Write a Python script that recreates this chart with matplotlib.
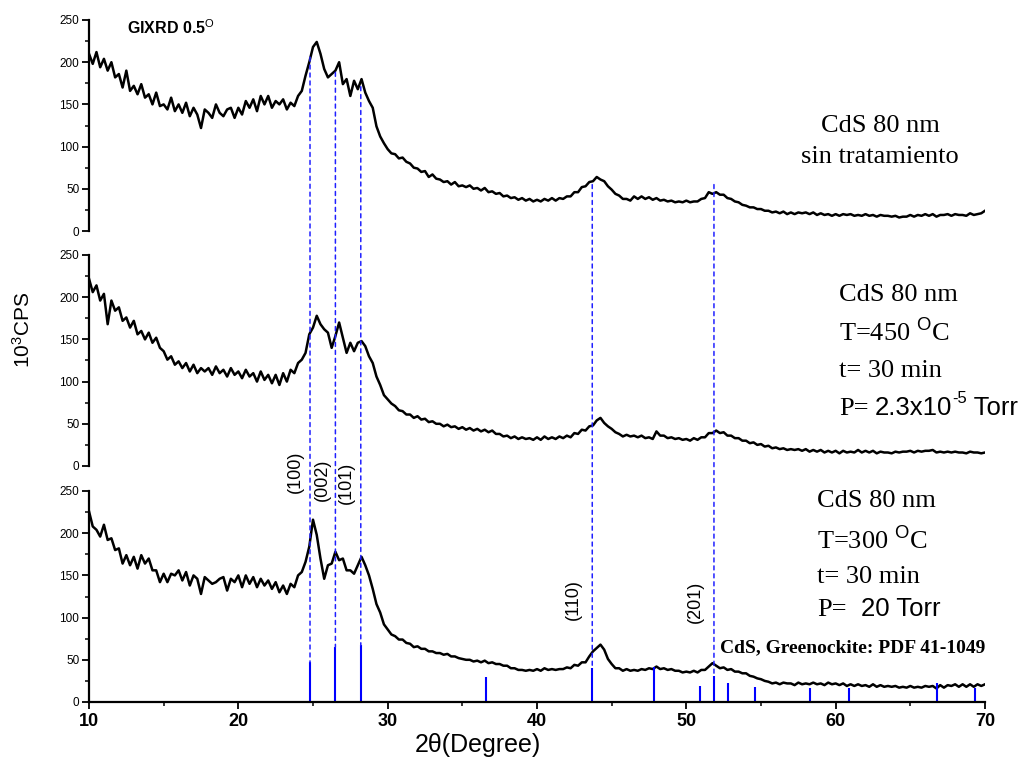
import numpy as np
import matplotlib
matplotlib.use("Agg")
import matplotlib.pyplot as plt
from matplotlib.patches import ConnectionPatch

plt.rcParams['font.family'] = ['Liberation Sans', 'DejaVu Sans']
plt.rcParams['mathtext.fontset'] = 'custom'
plt.rcParams['mathtext.rm'] = 'Liberation Sans'
plt.rcParams['mathtext.it'] = 'Liberation Sans:italic'
plt.rcParams['mathtext.bf'] = 'Liberation Sans:bold'

# ---------------- data ----------------
two_theta_start = 10.0
two_theta_step = 0.25

cps_as_deposited = [
    210, 198, 212, 194, 204, 190, 200, 182,
    186, 170, 190, 166, 172, 162, 174, 158,
    162, 150, 164, 148, 150, 144, 158, 142,
    150, 140, 152, 136, 146, 138, 122, 144,
    140, 134, 150, 140, 136, 144, 146, 134,
    146, 138, 154, 146, 156, 142, 160, 150,
    160, 146, 154, 150, 156, 144, 152, 148,
    160, 166, 184, 200, 218, 224, 210, 192,
    182, 186, 190, 200, 174, 180, 160, 178,
    168, 180, 164, 154, 146, 124, 112, 104,
    97, 92, 91, 86, 87, 82, 80, 75,
    74, 70, 71, 64, 67, 62, 61, 58,
    59, 55, 58, 53, 54, 52, 54, 50,
    51, 48, 51, 46, 47, 44, 45, 41,
    42, 39, 40, 37, 39, 36, 38, 35,
    37, 35, 38, 36, 39, 36, 39, 38,
    41, 41, 46, 46, 52, 53, 58, 59,
    64, 61, 59, 53, 49, 44, 42, 38,
    38, 36, 41, 38, 41, 38, 40, 37,
    39, 36, 37, 35, 36, 34, 35, 34,
    36, 34, 35, 35, 38, 39, 46, 44,
    46, 43, 43, 39, 38, 35, 34, 31,
    30, 28, 28, 26, 26, 24, 24, 22,
    23, 21, 23, 20, 22, 20, 22, 21,
    22, 20, 22, 19, 21, 19, 20, 18,
    20, 18, 20, 19, 20, 18, 19, 18,
    20, 18, 19, 17, 19, 18, 18, 17,
    18, 16, 17, 17, 19, 17, 19, 18,
    20, 18, 20, 17, 19, 19, 20, 18,
    20, 19, 19, 18, 21, 19, 20, 21,
    24,
]

cps_450C = [
    222, 206, 214, 196, 204, 168, 196, 184,
    188, 172, 176, 164, 172, 156, 160, 150,
    158, 146, 152, 140, 136, 126, 130, 120,
    124, 116, 122, 112, 120, 110, 116, 112,
    116, 108, 118, 110, 114, 106, 116, 108,
    112, 104, 114, 106, 110, 100, 112, 102,
    108, 98, 108, 96, 110, 100, 114, 110,
    122, 126, 134, 156, 164, 178, 168, 162,
    158, 140, 154, 170, 152, 134, 146, 136,
    146, 148, 142, 130, 122, 106, 96, 84,
    79, 74, 71, 66, 65, 61, 61, 57,
    59, 55, 56, 52, 53, 50, 50, 47,
    49, 46, 47, 44, 46, 43, 45, 42,
    44, 41, 43, 40, 42, 38, 38, 35,
    36, 33, 35, 32, 34, 32, 33, 31,
    34, 31, 35, 32, 34, 32, 35, 33,
    36, 34, 39, 38, 43, 42, 47, 48,
    54, 57, 51, 47, 44, 40, 38, 35,
    37, 35, 36, 34, 36, 33, 34, 32,
    41, 36, 36, 33, 34, 32, 33, 31,
    32, 30, 33, 31, 34, 34, 39, 39,
    42, 39, 40, 36, 36, 33, 33, 30,
    30, 27, 28, 25, 26, 23, 24, 21,
    22, 20, 21, 19, 20, 19, 20, 18,
    20, 17, 19, 17, 19, 16, 18, 16,
    18, 15, 18, 16, 17, 16, 19, 16,
    18, 16, 18, 15, 17, 16, 16, 15,
    17, 16, 17, 17, 18, 16, 18, 17,
    18, 18, 19, 16, 17, 16, 17, 16,
    17, 16, 16, 15, 17, 16, 16, 15,
    16,
]

cps_300C = [
    226, 208, 204, 196, 210, 192, 194, 180,
    182, 164, 174, 162, 172, 158, 174, 164,
    170, 156, 156, 142, 152, 142, 152, 150,
    156, 144, 154, 138, 150, 146, 128, 148,
    144, 140, 142, 146, 148, 132, 146, 142,
    150, 136, 150, 140, 148, 136, 146, 138,
    144, 134, 142, 130, 138, 128, 140, 136,
    150, 154, 166, 184, 216, 198, 170, 146,
    162, 164, 178, 168, 170, 156, 156, 152,
    162, 172, 162, 150, 134, 116, 106, 92,
    86, 80, 78, 74, 74, 70, 69, 65,
    66, 63, 63, 60, 60, 58, 58, 56,
    57, 54, 54, 52, 51, 50, 50, 48,
    49, 47, 49, 46, 47, 45, 45, 43,
    43, 40, 40, 38, 38, 37, 38, 37,
    39, 37, 40, 38, 39, 38, 39, 39,
    41, 40, 44, 43, 47, 47, 54, 60,
    64, 68, 62, 51, 45, 40, 40, 37,
    39, 37, 38, 37, 39, 38, 40, 39,
    42, 39, 40, 38, 39, 37, 37, 35,
    36, 35, 37, 35, 38, 38, 42, 46,
    43, 40, 41, 38, 39, 36, 36, 34,
    34, 31, 30, 28, 27, 25, 24, 22,
    23, 21, 23, 22, 22, 20, 23, 21,
    22, 21, 23, 21, 22, 20, 23, 21,
    22, 20, 22, 19, 21, 19, 21, 19,
    20, 18, 21, 18, 20, 18, 19, 18,
    19, 17, 18, 17, 19, 17, 18, 17,
    19, 18, 19, 16, 20, 17, 20, 19,
    21, 18, 21, 18, 21, 18, 21, 19,
    21,
]

# PDF 41-1049 reference pattern (CdS greenockite)
ref_positions = [24.8, 26.5, 28.2, 36.6, 43.7, 47.85, 50.9, 51.85, 52.8, 54.6, 58.3, 60.9, 66.8, 69.3]
ref_heights = [47, 65, 67, 30, 40, 42, 19, 31, 23, 18, 16, 16, 22, 17]

# dashed guide lines
guide_positions = [24.8, 26.5, 28.2, 43.7, 51.85]
guide_top_values = [206, 188, 171, 55, 55]
guide_bottom_values = [47, 65, 67, 40, 31]

hkl_labels = ['(100)', '(002)', '(101)', '(110)', '(201)']

x_ticks = [10, 20, 30, 40, 50, 60, 70]
y_ticks = [0, 50, 100, 150, 200, 250]

# ---------------- figure ----------------
W, H = 1029, 761
fig = plt.figure(figsize=(W / 100, H / 100), dpi=100)

def px_axes(top, bottom):
    return [89 / W, 1 - bottom / H, 896 / W, (bottom - top) / H]

ax_top = fig.add_axes(px_axes(20, 231))
ax_mid = fig.add_axes(px_axes(255, 466))
ax_bot = fig.add_axes(px_axes(491, 702))

series = [cps_as_deposited, cps_450C, cps_300C]
axes = [ax_top, ax_mid, ax_bot]

for ax, ys in zip(axes, series):
    xs = two_theta_start + two_theta_step * np.arange(len(ys))
    ax.plot(xs, ys, color='black', lw=1.8)
    ax.set_xlim(10, 70)
    ax.set_ylim(0, 250)
    ax.set_yticks(y_ticks)
    ax.set_yticks(np.arange(0, 251, 25), minor=True)
    ax.tick_params(axis='y', which='major', direction='out', length=5, width=1.3,
                   labelsize=8.5, pad=2)
    ax.tick_params(axis='y', which='minor', direction='out', length=3, width=1.1)
    for s in ['top', 'right']:
        ax.spines[s].set_visible(False)
    ax.spines['left'].set_linewidth(1.6)
    ax.patch.set_alpha(0)

for ax in [ax_top, ax_mid]:
    ax.spines['bottom'].set_visible(False)
    ax.set_xticks([])

ax_bot.spines['bottom'].set_linewidth(1.6)
ax_bot.set_xticks(x_ticks)
ax_bot.set_xticks(np.arange(10, 71, 5), minor=True)
ax_bot.tick_params(axis='x', which='major', direction='out', length=5, width=1.3,
                   labelsize=13, pad=3)
ax_bot.tick_params(axis='x', which='minor', direction='out', length=3, width=1.1)
for lbl in ax_bot.get_xticklabels():
    lbl.set_fontweight('bold')

# reference bars
ax_bot.vlines(ref_positions, 0, ref_heights, color='blue', lw=1.5)

# dashed guide lines across panels
for gx, gt, gb in zip(guide_positions, guide_top_values, guide_bottom_values):
    con = ConnectionPatch(xyA=(gx, gt), coordsA=ax_top.transData,
                          xyB=(gx, gb), coordsB=ax_bot.transData,
                          color='#2020ff', lw=1.1, linestyle=(0, (2.6, 2.6)))
    fig.add_artist(con)

def fx(px):
    return px / W

def fy(py):
    return 1 - py / H

# hkl labels
hkl_px = [(295, 472), (322, 480), (346, 483), (573, 600), (695, 602)]
for lab, (px, py) in zip(hkl_labels, hkl_px):
    fig.text(fx(px), fy(py), lab, rotation=90, ha='center', va='center', fontsize=13)

# axis labels
fig.text(fx(23), fy(330), r'10$^{3}$CPS', rotation=90, ha='center', va='center', fontsize=15)
fig.text(fx(478), fy(745), '2θ(Degree)', ha='center', va='center', fontsize=18)

# annotations
fig.text(fx(127), fy(34), r'GIXRD 0.5$^{\mathrm{O}}$', ha='left', va='baseline',
         fontsize=11.5, fontweight='bold')

serif = 'Liberation Serif'
fig.text(fx(880), fy(132), 'CdS 80 nm', ha='center', va='baseline', fontsize=19, family=serif)
fig.text(fx(880), fy(163), 'sin tratamiento', ha='center', va='baseline', fontsize=19, family=serif)

fig.text(fx(839), fy(301), 'CdS 80 nm', ha='left', va='baseline', fontsize=19, family=serif)
fig.text(fx(839), fy(342), r'T=450 $^{\mathrm{O}}$C', ha='left', va='baseline', fontsize=19, family=serif)
fig.text(fx(839), fy(377), 't= 30 min', ha='left', va='baseline', fontsize=19, family=serif)
fig.text(fx(839), fy(415), 'P=', ha='left', va='baseline', fontsize=19, family=serif)

renderer = fig.canvas.get_renderer()

def chain_text(x_px, y_px, pieces):
    cur = x_px
    for s, size, dy in pieces:
        t = fig.text(fx(cur), fy(y_px - dy), s, ha='left', va='baseline', fontsize=size)
        bb = t.get_window_extent(renderer=renderer)
        cur = bb.x1

chain_text(875, 415, [('2.3x10', 18.5, 0), ('-5', 12, 12), (' Torr', 18.5, 0)])

fig.text(fx(817), fy(507), 'CdS 80 nm', ha='left', va='baseline', fontsize=19, family=serif)
fig.text(fx(817), fy(550), r'T=300 $^{\mathrm{O}}$C', ha='left', va='baseline', fontsize=19, family=serif)
fig.text(fx(817), fy(583), 't= 30 min', ha='left', va='baseline', fontsize=19, family=serif)
fig.text(fx(817), fy(616), 'P=', ha='left', va='baseline', fontsize=19, family=serif)
fig.text(fx(861), fy(616), '20 Torr', ha='left', va='baseline', fontsize=18.5)

fig.text(fx(720), fy(652), 'CdS, Greenockite: PDF 41-1049', ha='left', va='baseline',
         fontsize=14, family=serif, fontweight='bold')

fig.savefig('out.png', dpi=100)
